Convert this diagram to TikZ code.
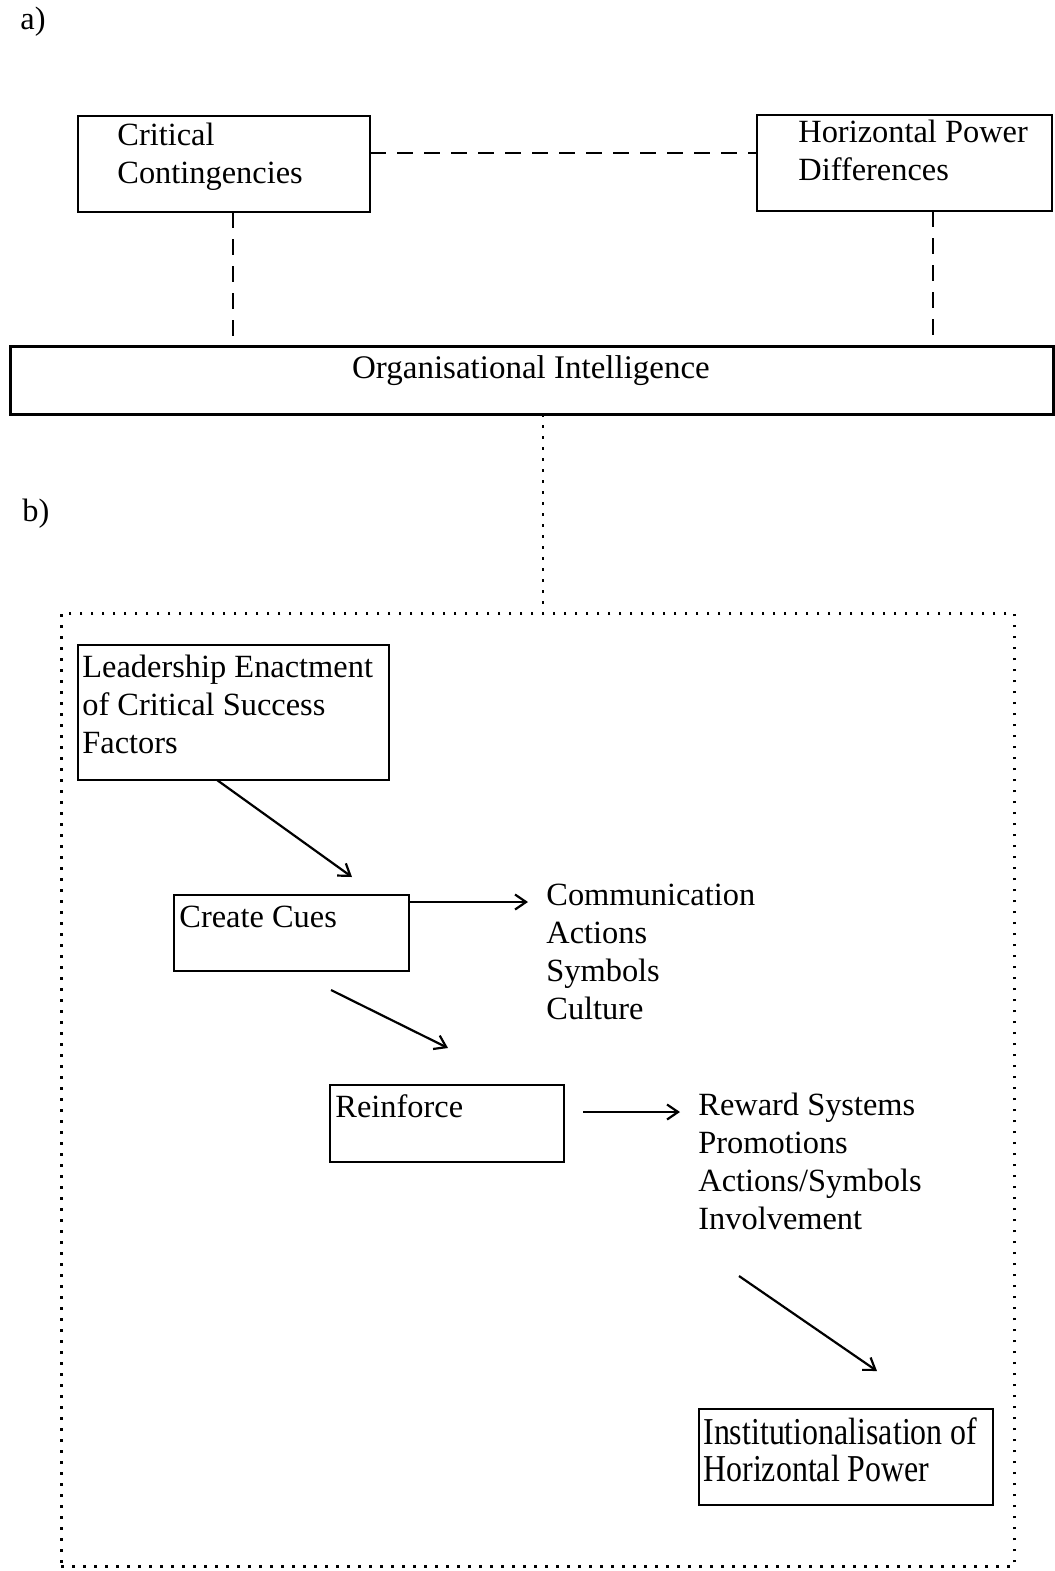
\documentclass[tikz,border=0pt]{standalone}
\usepackage{fontspec}
\setmainfont{Liberation Serif}
\usetikzlibrary{arrows.meta,calc}
\begin{document}
\begin{tikzpicture}[x=0.5pt,y=-0.5pt,
  box/.style={draw, line width=1pt, anchor=north west, inner sep=0pt, outer sep=0pt},
  txt/.style={anchor=base west, align=left, inner sep=0pt, font=\fontsize{16.2}{19}\selectfont},
  dashline/.style={line width=1pt, dash pattern=on 8pt off 5.5pt},
  dotline/.style={line width=1.4pt, dash pattern=on 1.3pt off 4.2pt},
  arr/.style={line width=1.1pt, -{Straight Barb[length=5.5pt,width=7.5pt]}}]
\fill[white] (0,0) rectangle (1055,1571);
\useasboundingbox (0,0) rectangle (1055,1571);

% part a)  (text nodes are placed at the baseline of their last line)
\node[txt] (la) at (20,29) {a)};
\node[box, minimum width=146pt, minimum height=48pt] (cc) at (78,116) {};
\node[txt] (cct) at (117,183) {Critical\\Contingencies};
\node[box, minimum width=147.5pt, minimum height=48pt] (hp) at (757,115) {};
\node[txt] (hpt) at (798,180) {Horizontal Power\\Differences};
\node[box, line width=1.5pt, minimum width=521.5pt, minimum height=34pt] (oi) at (10,346) {};
\node[txt, anchor=base, font=\fontsize{16.5}{19}\selectfont] (oit) at (531,378) {Organisational Intelligence};

\draw[dashline] ($(cc.north east)!0.385!(cc.south east)$) coordinate (c1)
  -- (c1 -| hp.west);
\draw[dashline] ($(cc.south west)!0.531!(cc.south east)$) coordinate (c2)
  -- (c2 |- oi.north);
\draw[dashline] ($(hp.south west)!0.597!(hp.south east)$) coordinate (c3)
  -- (c3 |- oi.north);

% part b)
\node[txt] (lb) at (22,521) {b)};
\node[draw, dotline, anchor=north west, inner sep=0pt,
  minimum width=476.5pt, minimum height=476.5pt] (frame) at (60,612) {};
\draw[dotline] ($(oi.south west)!0.511!(oi.south east)$) coordinate (c4)
  -- (c4 |- frame.north);

\node[box, minimum width=155.5pt, minimum height=67.5pt] (le) at (78,645) {};
\node[txt] (let) at (82,753) {Leadership Enactment\\of Critical Success\\Factors};

\node[box, minimum width=117.5pt, minimum height=38pt] (cq) at (174,895) {};
\node[txt] (cqt) at (179,927) {Create Cues};
\node[txt] (cues) at (546,1019) {Communication\\Actions\\Symbols\\Culture};

\node[box, minimum width=117pt, minimum height=38.5pt] (rf) at (330,1085) {};
\node[txt] (rft) at (335,1117) {Reinforce};
\node[txt] (rw) at (698,1229) {Reward Systems\\Promotions\\Actions/Symbols\\Involvement};

\node[box, minimum width=147pt, minimum height=48pt] (ih) at (699,1409) {};
\node[txt, font=\fontsize{19}{18.5}\selectfont] (iht) at (703,1481)
  {\scalebox{0.84}[1]{Institutionalisation of}\\\scalebox{0.84}[1]{Horizontal Power}};

% arrows
\coordinate (a1) at (352,877);
\coordinate (a2) at (528,902);
\coordinate (a3s) at (331,990);
\coordinate (a3) at (448,1048);
\coordinate (a4s) at (583,1112);
\coordinate (a4) at (680,1112);
\coordinate (a5s) at (739,1276);
\coordinate (a5) at (877,1371);
\draw[arr] ($(le.south west)!0.447!(le.south east)$) -- (a1);
\draw[arr] (cq.east |- a2) -- (a2);
\draw[arr] (a3s) -- (a3);
\draw[arr] (a4s) -- (a4);
\draw[arr] (a5s) -- (a5);
\end{tikzpicture}
\end{document}
